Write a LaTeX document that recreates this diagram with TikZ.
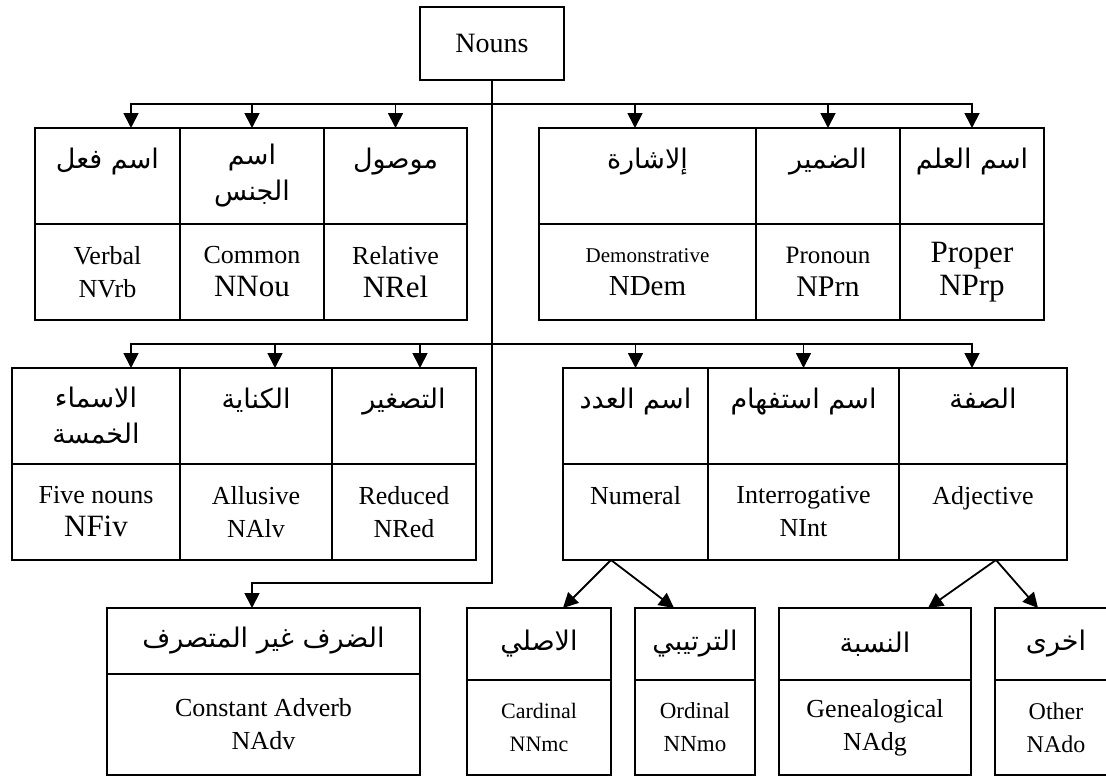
\documentclass[tikz,border=0pt]{standalone}
\usepackage{fontspec}
\setmainfont{Liberation Serif}
\newfontfamily\arabicfont[Script=Arabic]{DejaVu Sans}
\TeXXeTstate=1
\usetikzlibrary{arrows.meta, positioning}

\newcommand{\artxt}[1]{\beginR #1\endR}
\newcommand{\fsz}[2]{{\fontsize{#1}{33}\selectfont #2}}

\begin{document}
\begin{tikzpicture}[x=1pt, y=-1pt,
    cell/.style={draw, line width=1.8pt, inner sep=0pt, outer sep=0pt, align=center},
    arfont/.style={font=\arabicfont\fontsize{27}{36}\selectfont},
    upper/.style={cell, arfont, minimum height=96pt},
    lower/.style={cell, minimum height=96pt, font=\fontsize{26}{33}\selectfont},
    arr/.style={-{Triangle[width=15pt,length=15pt]}, line width=1.8pt}]

    \useasboundingbox (0,0) rectangle (1106,776);

    % root
    \node[cell, minimum width=144pt, minimum height=73pt, font=\fontsize{28}{33}\selectfont] (nouns) at (492,43.5) {Nouns};

    % first row, left block
    \node[upper, minimum width=143pt] (relU) at (395.5,176) {\artxt{موصول}\\\mbox{}};
    \node[upper, minimum width=144pt, left=0pt of relU] (comU) {\artxt{اسم}\\\artxt{الجنس}};
    \node[upper, minimum width=145pt, left=0pt of comU] (vrbU) {\artxt{اسم فعل}\\\mbox{}};
    \node[lower, minimum width=143pt, below=0pt of relU] (relL) {Relative\\\fsz{31}{NRel}};
    \node[lower, minimum width=144pt, below=0pt of comU] (comL) {Common\\\fsz{31}{NNou}};
    \node[lower, minimum width=145pt, below=0pt of vrbU] (vrbL) {Verbal\\NVrb};

    % first row, right block
    \node[upper, minimum width=144pt] (prpU) at (972,176) {\artxt{اسم العلم}\\\mbox{}};
    \node[upper, minimum width=144pt, left=0pt of prpU] (prnU) {\artxt{الضمير}\\\mbox{}};
    \node[upper, minimum width=217pt, left=0pt of prnU] (demU) {\artxt{إلاشارة}\\\mbox{}};
    \node[lower, minimum width=144pt, below=0pt of prpU] (prpL) {\fsz{31}{Proper}\\\fsz{31}{NPrp}};
    \node[lower, minimum width=144pt, below=0pt of prnU] (prnL) {\fsz{25}{Pronoun}\\\fsz{30}{NPrn}};
    \node[lower, minimum width=217pt, below=0pt of demU] (demL) {\fsz{21}{Demonstrative}\\\fsz{29}{NDem}};

    % second row, left block
    \node[upper, minimum width=144pt] (redU) at (404,416) {\artxt{التصغير}\\\mbox{}};
    \node[upper, minimum width=152pt, left=0pt of redU] (alvU) {\artxt{الكناية}\\\mbox{}};
    \node[upper, minimum width=168pt, left=0pt of alvU] (fivU) {\artxt{الاسماء}\\\artxt{الخمسة}};
    \node[lower, minimum width=144pt, below=0pt of redU] (redL) {Reduced\\NRed};
    \node[lower, minimum width=152pt, below=0pt of alvU] (alvL) {Allusive\\NAlv};
    \node[lower, minimum width=168pt, below=0pt of fivU] (fivL) {Five nouns\\\fsz{31}{NFiv}};

    % second row, right block
    \node[upper, minimum width=168pt] (adjU) at (983,416) {\artxt{الصفة}\\\mbox{}};
    \node[upper, minimum width=191pt, left=0pt of adjU] (intU) {\artxt{اسم استفهام}\\\mbox{}};
    \node[upper, minimum width=145pt, left=0pt of intU] (numU) {\artxt{اسم العدد}\\\mbox{}};
    \node[lower, minimum width=168pt, below=0pt of adjU] (adjL) {Adjective\\\mbox{}};
    \node[lower, minimum width=191pt, below=0pt of intU] (intL) {Interrogative\\NInt};
    \node[lower, minimum width=145pt, below=0pt of numU] (numL) {Numeral\\\mbox{}};

    % bottom row
    \node[cell, arfont, minimum width=313pt, minimum height=66pt] (advU) at (263.5,641) {\artxt{الضرف غير المتصرف}};
    \node[lower, minimum width=313pt, minimum height=101pt, below=0pt of advU] (advL) {Constant Adverb\\NAdv};
    \node[cell, arfont, minimum width=144pt, minimum height=72pt] (carU) at (539,644) {\artxt{الاصلي}};
    \node[lower, minimum width=144pt, minimum height=95pt, below=0pt of carU, font=\fontsize{22}{33}\selectfont] (carL) {Cardinal\\NNmc};
    \node[cell, arfont, minimum width=120pt, minimum height=72pt] (ordU) at (695,644) {\artxt{الترتيبي}};
    \node[lower, minimum width=120pt, minimum height=95pt, below=0pt of ordU, font=\fontsize{23}{33}\selectfont] (ordL) {Ordinal\\NNmo};
    \node[cell, arfont, minimum width=192pt, minimum height=72pt] (genU) at (875,644) {\artxt{النسبة}};
    \node[lower, minimum width=192pt, minimum height=95pt, below=0pt of genU] (genL) {Genealogical\\NAdg};
    \node[cell, arfont, minimum width=122pt, minimum height=72pt] (othU) at (1056,644) {\artxt{اخرى}};
    \node[lower, minimum width=122pt, minimum height=95pt, below=0pt of othU, font=\fontsize{24}{33}\selectfont] (othL) {Other\\NAdo};

    % connectors
    \coordinate (bus1) at (492,104);
    \coordinate (bus2) at (492,344);
    \coordinate (bend) at (492,583);
    \draw[arr] (nouns.south) -- (bend) -| ([xshift=-11.5pt]advU.north);

    \draw[arr] (bus1) -| ([xshift=23.5pt]vrbU.north);
    \draw[arr] (bus1) -| (comU.north);
    \draw[arr] (bus1) -| (relU.north);
    \draw[arr] (bus1) -| ([xshift=-12.5pt]demU.north);
    \draw[arr] (bus1) -| (prnU.north);
    \draw[arr] (bus1) -| (prpU.north);

    \draw[arr] (bus2) -| ([xshift=35pt]fivU.north);
    \draw[arr] (bus2) -| ([xshift=19pt]alvU.north);
    \draw[arr] (bus2) -| ([xshift=16pt]redU.north);
    \draw[arr] (bus2) -| (numU.north);
    \draw[arr] (bus2) -| (intU.north);
    \draw[arr] (bus2) -| ([xshift=-11pt]adjU.north);

    \coordinate (numfork) at ([xshift=-24.5pt]numL.south);
    \coordinate (adjfork) at ([xshift=13pt]adjL.south);
    \draw[arr] (numfork) -- ([xshift=24pt]carU.north);
    \draw[arr] (numfork) -- ([xshift=-21pt]ordU.north);
    \draw[arr] (adjfork) -- ([xshift=53pt]genU.north);
    \draw[arr] (adjfork) -- ([xshift=-18pt]othU.north);
\end{tikzpicture}
\end{document}
